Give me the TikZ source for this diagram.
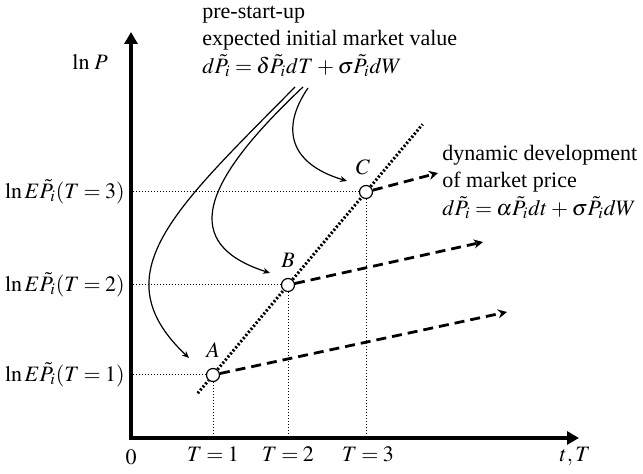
\documentclass[tikz,border=0pt]{standalone}
\usepackage{mathptmx}
\usepackage{fontspec}
\setmainfont{Liberation Serif}
\usetikzlibrary{positioning,calc,arrows.meta}
\thickmuskip=3.5mu plus 2mu
\medmuskip=3mu plus 1mu

\begin{document}
\begin{tikzpicture}
		[x=0.5pt, y=0.5pt,
		every node/.style={font=\fontsize{11}{13.6}\selectfont},
		axis/.style={line width=2pt, line join=miter, {Triangle[length=6pt,width=6.5pt]}-{Triangle[length=6pt,width=6.5pt]}},
		point/.style={circle, draw, fill=white, line width=0.6pt, minimum size=6.5pt, inner sep=0pt},
		guide/.style={densely dotted, line width=0.5pt},
		trend/.style={line width=1.5pt, dash pattern=on 1pt off 1pt},
		drift/.style={line width=1.4pt, dash pattern=on 5pt off 3pt, -{Stealth[length=4.5pt,width=4.5pt]}},
		pointer/.style={line width=0.6pt, -{Stealth[length=3.5pt,width=3pt]}}]
		\useasboundingbox (0,0) rectangle (643,474);

		\coordinate (O) at (131,36);
		\coordinate (ytip) at (131,442);
		\coordinate (xtip) at (579,36);

		\node[point] (A) at (213,99) {};
		\node[point] (B) at (288,189) {};
		\node[point] (C) at (366,282) {};
		\draw[trend] ($(A)!-0.1!(C)$) -- (A) -- (B) -- (C) -- ($(A)!1.37!(C)$);

		\draw[guide] (A) -- (A -| O);
		\draw[guide] (B) -- (B -| O);
		\draw[guide] (C) -- (C -| O);
		\draw[guide] (A) -- (A |- O);
		\draw[guide] (B) -- (B |- O);
		\draw[guide] (C) -- (C |- O);
		\draw[axis] (ytip) |- (xtip);

		\coordinate (endA) at (507,162);
		\coordinate (endB) at (483,232);
		\coordinate (endC) at (438,301);
		\draw[drift] (A) -- (endA);
		\draw[drift] (B) -- (endB);
		\draw[drift] (C) -- (endC);

		\node[above=5pt] (labA) at (A) {$A$};
		\node[above=5pt] (labB) at (B) {$B$};
		\node[above=5pt, xshift=-1.5pt] (labC) at (C) {$C$};

		\node[left=2pt, inner sep=1pt] (lnA) at (A -| O) {$\ln E\tilde{P}_i(T=1)$};
		\node[left=2pt, inner sep=1pt] (lnB) at (B -| O) {$\ln E\tilde{P}_i(T=2)$};
		\node[left=2pt, inner sep=1pt] (lnC) at (C -| O) {$\ln E\tilde{P}_i(T=3)$};
		\node[below=1pt] (T1) at (A |- O) {$T=1$};
		\node[below=1pt] (T2) at (B |- O) {$T=2$};
		\node[below=1pt, xshift=1pt] (T3) at (C |- O) {$T=3$};
		\node[below=2.5pt] (zero) at (O) {$0$};
		\node[below=1pt, xshift=-2pt] (tT) at (xtip) {$t,T$};
		\node[left=8pt] (lnP) at (131,412) {$\ln\,P$};

		\node[anchor=north west, align=left, inner sep=0pt] (pre) at (202,468)
			{pre-start-up\\expected initial market value\\$d\tilde{P}_i = \delta\tilde{P}_i dT + \sigma\tilde{P}_i dW$};
		\node[anchor=north west, align=left, inner sep=0pt] (dyn) at (442,329)
			{dynamic development\\of market price\\$d\tilde{P}_i = \alpha\tilde{P}_i dt + \sigma\tilde{P}_i dW$};

		\coordinate (s1) at (295,387);
		\coordinate (s2) at (303,387);
		\coordinate (s3) at (308,386);
		\coordinate (tA) at (189,116);
		\coordinate (tB) at (270,201);
		\coordinate (tC) at (347,293);
		\draw[pointer] (s1) .. controls (175,265) and (100,200) .. (tA);
		\draw[pointer] (s2) .. controls (200,290) and (180,230) .. (tB);
		\draw[pointer] (s3) .. controls (280,345) and (290,310) .. (tC);
	\end{tikzpicture}
\end{document}
